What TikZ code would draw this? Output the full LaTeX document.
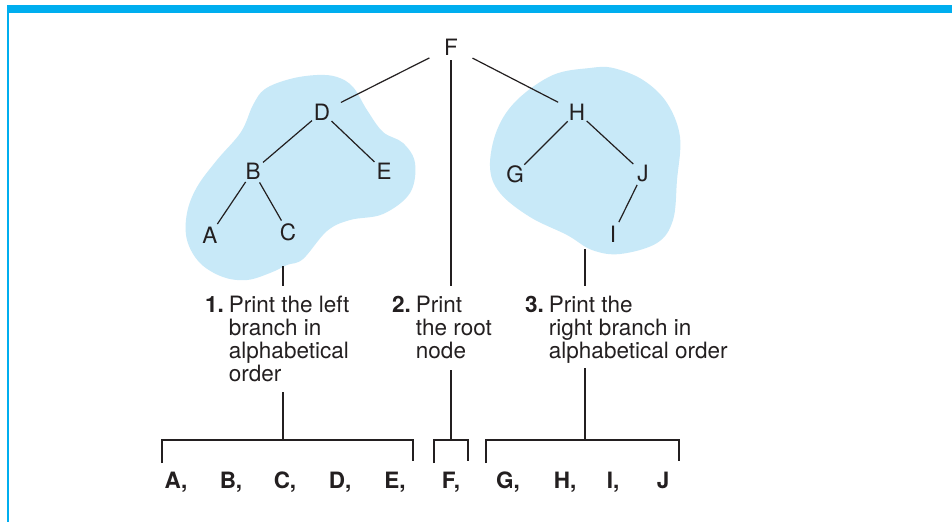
\documentclass[tikz,border=0pt]{standalone}
\usepackage{fontspec}
\setmainfont{TeX Gyre Heros}
\usepackage{tikz}
\usetikzlibrary{positioning}

\definecolor{barblue}{HTML}{00AEEF}
\definecolor{blobblue}{HTML}{C8E9F8}
\definecolor{ink}{HTML}{231F20}
\newcommand\bigtext{\fontsize{22.5}{22.7}\selectfont}

\begin{document}
\begin{tikzpicture}[
  x=1pt, y=-1pt,
  letter/.style={circle, inner sep=0pt, minimum size=26pt, font=\bigtext, text=ink},
  edge/.style={draw=ink, line width=1.2pt},
  rootedge/.style={edge, shorten <=11pt, shorten >=8pt},
  blob/.style={fill=blobblue, draw=none},
  stepbox/.style={anchor=base west, inner sep=0pt, font=\bigtext, text=ink},
  outl/.style={anchor=base, inner sep=0pt, font=\bigtext\bfseries, text=ink}
]
\useasboundingbox (0,0) rectangle (952,522);
\fill[white] (0,0) rectangle (952,522);
\fill[barblue] (7,5) rectangle (952,12.5);
\fill[barblue] (7,5) rectangle (8.6,522);

% shaded branches
\fill[blob] plot[smooth cycle, tension=0.6] coordinates {
  (317,75) (290,79) (265,89) (253,105) (241,132) (217,160) (197,187) (187,213)
  (187,240) (200,263) (223,277) (247,280) (270,273) (287,265) (303,259)
  (327,231) (350,220) (383,214) (410,193) (415,163) (403,143) (383,132)
  (367,110) (353,87) (337,77)};
\fill[blob] plot[smooth cycle, tension=0.6] coordinates {
  (590,68) (553,75) (517,100) (497,130) (490,167) (500,193) (530,217)
  (567,235) (592,250) (620,254) (657,243) (673,220) (677,180) (680,137)
  (667,103) (643,80) (613,68)};

% tree
\node[letter] (F) at (451,47) {F};
\node[letter] (D) at (322,112) {D};
\node[letter] (B) at (253,171) {B};
\node[letter] (E) at (384,171) {E};
\node[letter] (A) at (210,235) {A};
\node[letter] (C) at (288,232) {C};
\node[letter] (H) at (577,112) {H};
\node[letter] (G) at (515,174) {G};
\node[letter] (J) at (643,173) {J};
\node[letter] (I) at (613,234) {I};

\draw[rootedge] (F) -- (D);
\draw[rootedge] (F) -- (H);
\draw[edge] (D) -- (B);
\draw[edge] (D) -- (E);
\draw[edge] (B) -- (A);
\draw[edge] (B) -- (C);
\draw[edge] (H) -- (G);
\draw[edge] (H) -- (J);
\draw[edge] (J) -- (I);

% the three steps
\node[stepbox] (s1) at (205,312) {\begin{tabular}[t]{@{}l@{\hspace{5pt}}l@{}}
  \textbf{1.} & Print the left\\ & branch in\\ & alphabetical\\ & order\end{tabular}};
\node[stepbox] (s2) at (392,312) {\begin{tabular}[t]{@{}l@{\hspace{5pt}}l@{}}
  \textbf{2.} & Print\\ & the root\\ & node\end{tabular}};
\node[stepbox] (s3) at (525,312) {\begin{tabular}[t]{@{}l@{\hspace{5pt}}l@{}}
  \textbf{3.} & Print the\\ & right branch in\\ & alphabetical order\end{tabular}};

\coordinate (lt1) at (283,266);
\coordinate (lt3) at (585,249);
\coordinate (lm1) at (283,286);
\coordinate (lm2) at (451,286);
\coordinate (lm3) at (585,286);
\coordinate (ll1) at (283,392);
\coordinate (ll2) at (451,370);
\coordinate (ll3) at (585,368);
\coordinate (b1) at (283,440);
\coordinate (b2) at (451,440);
\coordinate (b3) at (585,440);

\draw[edge] (lt1) -- (lm1);
\draw[edge] (F) -- (lm2);
\draw[edge] (lt3) -- (lm3);
\draw[edge] (ll1) -- (b1);
\draw[edge] (ll2) -- (b2);
\draw[edge] (ll3) -- (b3);

% brackets and output
\foreach \l/\r in {162/413, 434/468, 486/679}
  \draw[edge] (\l,463) |- (\r,440) -- (\r,461);

\foreach \n/\x in {A/176, B/231, C/285, D/340, E/395, F/451, G/508, H/565, I/613}
  \node[outl] (o\n) at (\x,488) {\n,};
\node[outl] (oJ) at (663,488) {J};
\end{tikzpicture}
\end{document}
